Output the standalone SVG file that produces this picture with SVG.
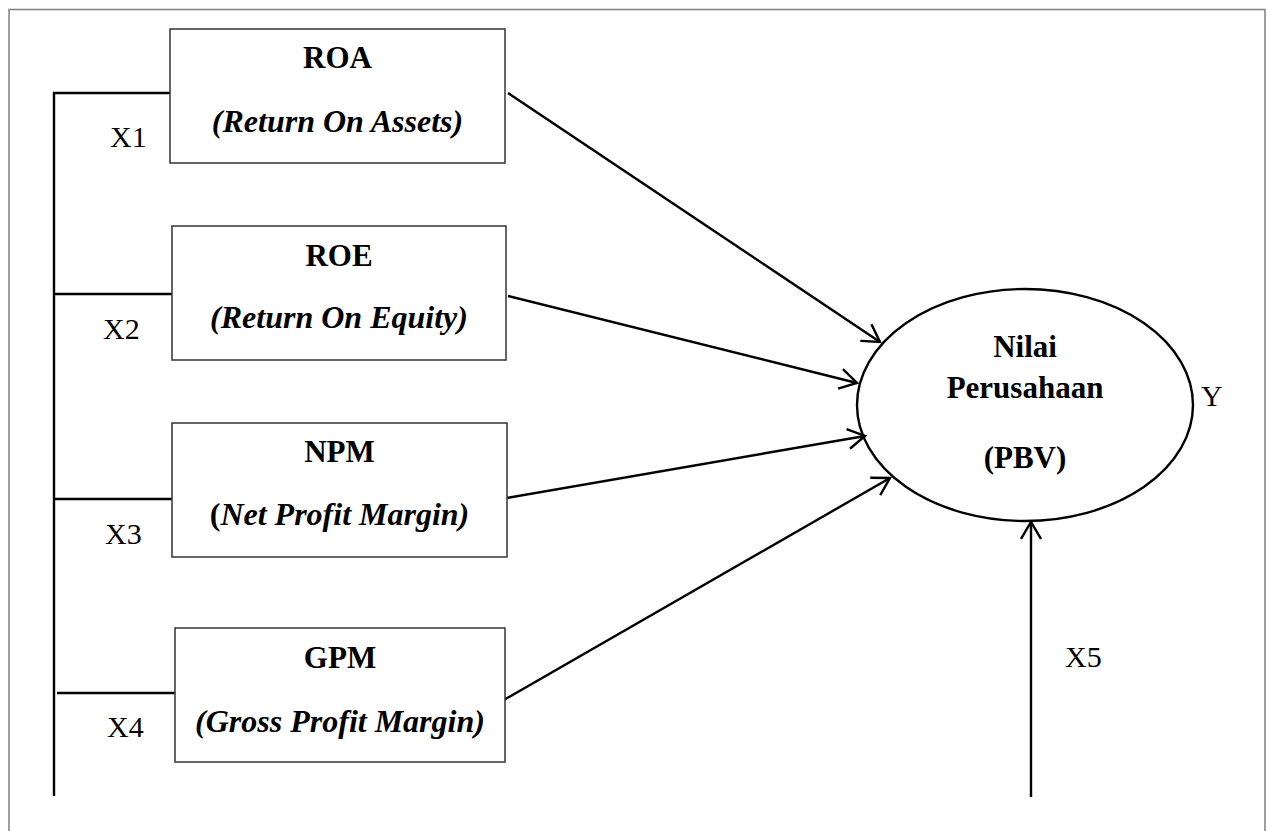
<svg xmlns="http://www.w3.org/2000/svg" width="1267" height="831" viewBox="0 0 1267 831">
<style>
.frame{fill:none;stroke:#808080;stroke-width:1.5}
.box{fill:#fff;stroke:#333;stroke-width:1.5}
.ln{fill:none;stroke:#000;stroke-width:2.4}
.t{font-family:"Liberation Serif","Times New Roman",serif;fill:#000}
.b{font-weight:bold;font-size:31px;text-anchor:middle}
.bi{font-weight:bold;font-style:italic;font-size:32px;text-anchor:middle}
.lbl{font-size:30px}
</style>
<defs>
<marker id="arr" markerUnits="userSpaceOnUse" viewBox="0 0 20 22" markerWidth="20" markerHeight="22" refX="18" refY="11" orient="auto">
<path d="M1,1 L18,11 L1,21" fill="none" stroke="#000" stroke-width="2.4"/>
</marker>
</defs>
<rect class="frame" x="9" y="9.5" width="1256" height="840"/>
<g id="connectors">
<path class="ln" d="M54,796 V93 H170"/>
<path class="ln" d="M54,294 H172"/>
<path class="ln" d="M54,499 H172"/>
<path class="ln" d="M57,693 H175"/>
<line class="ln" x1="508" y1="93" x2="880" y2="342" marker-end="url(#arr)"/>
<line class="ln" x1="508" y1="296" x2="857" y2="383" marker-end="url(#arr)"/>
<line class="ln" x1="507" y1="498" x2="865" y2="436" marker-end="url(#arr)"/>
<line class="ln" x1="495" y1="705" x2="890" y2="478" marker-end="url(#arr)"/>
<line class="ln" x1="1031" y1="797" x2="1031" y2="522" marker-end="url(#arr)"/>
</g>
<g id="roa">
<rect class="box" x="170" y="29" width="335" height="134"/>
<text class="t b" x="337.5" y="68">ROA</text>
<text class="t bi" x="337.5" y="132">(Return On Assets)</text>
<text class="t lbl" x="110" y="147">X1</text>
</g>
<g id="roe">
<rect class="box" x="172" y="226" width="334" height="134"/>
<text class="t b" x="339" y="266">ROE</text>
<text class="t bi" x="339" y="328">(Return On Equity)</text>
<text class="t lbl" x="103" y="339">X2</text>
</g>
<g id="npm">
<rect class="box" x="172" y="423" width="335" height="134"/>
<text class="t b" x="339.5" y="462">NPM</text>
<text class="t bi" x="339.5" y="525"><tspan font-style="normal">(</tspan>Net Profit Margin)</text>
<text class="t lbl" x="105" y="544">X3</text>
</g>
<g id="gpm">
<rect class="box" x="175" y="628" width="330" height="134"/>
<text class="t b" x="340" y="668">GPM</text>
<text class="t bi" x="340" y="732">(Gross Profit Margin)</text>
<text class="t lbl" x="107" y="737">X4</text>
</g>
<g id="nilai">
<ellipse class="ln" cx="1025" cy="405" rx="168" ry="116"/>
<text class="t b" x="1025" y="357">Nilai</text>
<text class="t b" x="1025" y="398">Perusahaan</text>
<text class="t b" x="1025" y="468">(PBV)</text>
<text class="t lbl" x="1201" y="406">Y</text>
</g>
<g id="x5">
<text class="t lbl" x="1065" y="667">X5</text>
</g>
</svg>
